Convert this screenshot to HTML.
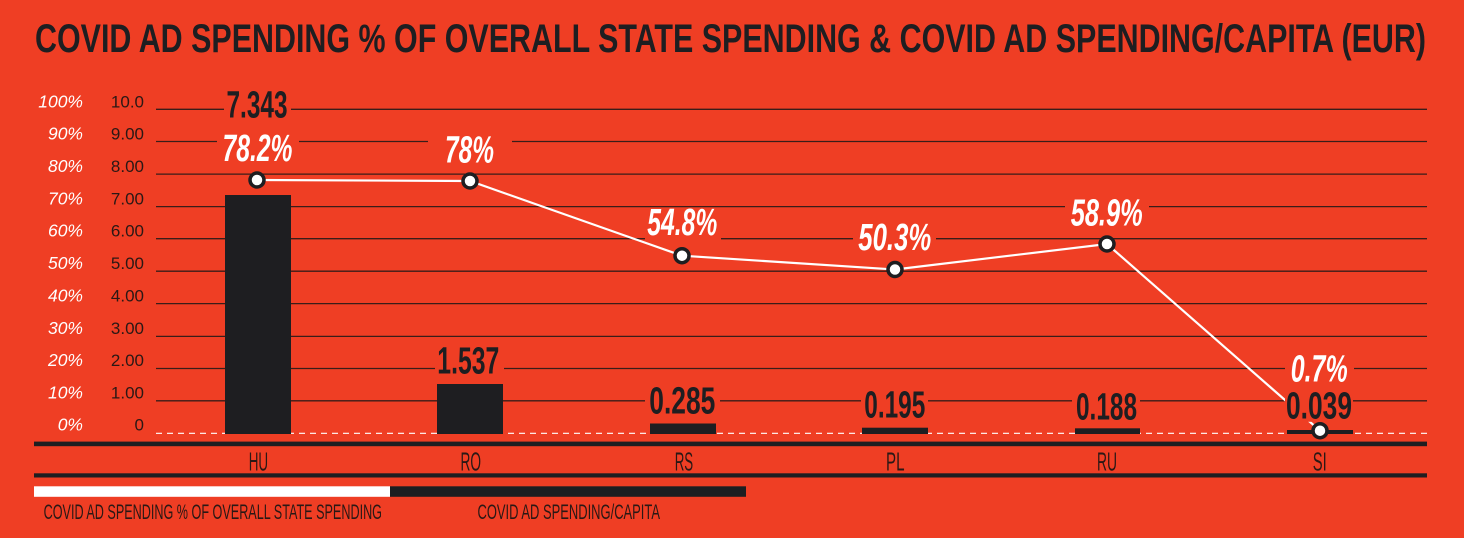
<!DOCTYPE html>
<html><head><meta charset="utf-8"><style>
html,body{margin:0;padding:0;background:#EF3E24;}
svg{display:block;}
</style></head><body>
<svg width="1464" height="538" viewBox="0 0 1464 538" xmlns="http://www.w3.org/2000/svg">
<rect x="0" y="0" width="1464" height="538" fill="#EF3E24"/>
<!-- title -->
<text x="35" y="52" font-family="Liberation Sans, sans-serif" font-weight="700" font-size="40" fill="#1e1e21" textLength="1391" lengthAdjust="spacingAndGlyphs">COVID AD SPENDING % OF OVERALL STATE SPENDING &amp; COVID AD SPENDING/CAPITA (EUR)</text>

<!-- gridlines -->
<g stroke="#3a1d19" stroke-width="1.3">
<line x1="156" y1="109.3" x2="1427" y2="109.3"/>
<line x1="156" y1="141.5" x2="1427" y2="141.5"/>
<line x1="156" y1="174.1" x2="1427" y2="174.1"/>
<line x1="156" y1="206.6" x2="1427" y2="206.6"/>
<line x1="156" y1="238.7" x2="1427" y2="238.7"/>
<line x1="156" y1="271.2" x2="1427" y2="271.2"/>
<line x1="156" y1="303.6" x2="1427" y2="303.6"/>
<line x1="156" y1="336.4" x2="1427" y2="336.4"/>
<line x1="156" y1="368.5" x2="1427" y2="368.5"/>
<line x1="156" y1="400.8" x2="1427" y2="400.8"/>
</g>
<line x1="156" y1="433.3" x2="1427" y2="433.3" stroke="#ffffff" stroke-width="1.2" stroke-dasharray="6 5"/>

<!-- left axis labels -->
<g font-family="Liberation Sans, sans-serif" font-size="17.5" font-style="italic" fill="#ffffff" text-anchor="end">
<text x="83" y="107.3">100%</text>
<text x="83" y="139.5">90%</text>
<text x="83" y="172">80%</text>
<text x="83" y="204.3">70%</text>
<text x="83" y="236.5">60%</text>
<text x="83" y="269">50%</text>
<text x="83" y="301.3">40%</text>
<text x="83" y="334">30%</text>
<text x="83" y="366.2">20%</text>
<text x="83" y="398.4">10%</text>
<text x="83" y="430.5">0%</text>
</g>
<g font-family="Liberation Sans, sans-serif" font-size="17" fill="#2a1815" text-anchor="end">
<text x="144" y="107.3">10.0</text>
<text x="144" y="139.5">9.00</text>
<text x="144" y="172">8.00</text>
<text x="144" y="204.3">7.00</text>
<text x="144" y="236.5">6.00</text>
<text x="144" y="269">5.00</text>
<text x="144" y="301.3">4.00</text>
<text x="144" y="334">3.00</text>
<text x="144" y="366.2">2.00</text>
<text x="144" y="398.4">1.00</text>
<text x="144" y="430.5">0</text>
</g>

<!-- bars -->
<g fill="#1e1e21">
<rect x="225" y="195" width="66" height="39"/>
<rect x="225" y="195" width="66" height="239"/>
<rect x="437" y="384" width="66" height="50"/>
<rect x="650" y="423.5" width="66" height="10.5"/>
<rect x="862" y="427.7" width="66" height="6.3"/>
<rect x="1075" y="428.3" width="65" height="5.7"/>
<rect x="1287" y="430" width="66" height="4"/>
</g>

<!-- line -->
<polyline points="257,180 470,181 682,255.7 895,269.5 1107,244 1320,430.7" fill="none" stroke="#ffffff" stroke-width="2.2"/>

<!-- label background boxes -->
<g fill="#EF3E24">
<rect x="224" y="90" width="67" height="32.5"/>
<rect x="217" y="133.5" width="82" height="32.5"/>
<rect x="428" y="135" width="84" height="32.5"/>
<rect x="645" y="207.6" width="76" height="32.5"/>
<rect x="853" y="222.5" width="83" height="32.5"/>
<rect x="1065" y="198.2" width="84" height="32.5"/>
<rect x="1285" y="354.2" width="69" height="32.5"/>
<rect x="435" y="345.8" width="69" height="32.5"/>
<rect x="645" y="385.8" width="75" height="32.5"/>
<rect x="861" y="389.8" width="67" height="32.5"/>
<rect x="1072" y="391.8" width="68" height="30"/>
<rect x="1285" y="390.8" width="68" height="31"/>
</g>

<!-- value labels -->
<g font-family="Liberation Sans, sans-serif" font-weight="700" font-size="38" fill="#1e1e21" lengthAdjust="spacingAndGlyphs">
<text x="226.5" y="117.5" textLength="61" lengthAdjust="spacingAndGlyphs">7.343</text>
<text x="437.3" y="373.3" textLength="62" lengthAdjust="spacingAndGlyphs">1.537</text>
<text x="649.3" y="413.3" textLength="66" lengthAdjust="spacingAndGlyphs">0.285</text>
<text x="864.3" y="417.3" textLength="61" lengthAdjust="spacingAndGlyphs">0.195</text>
<text x="1076" y="419.3" textLength="61" lengthAdjust="spacingAndGlyphs">0.188</text>
<text x="1286" y="418.3" textLength="66" lengthAdjust="spacingAndGlyphs">0.039</text>
</g>
<g font-family="Liberation Sans, sans-serif" font-weight="700" font-style="italic" font-size="38" fill="#ffffff">
<text x="222.5" y="161" textLength="70" lengthAdjust="spacingAndGlyphs">78.2%</text>
<text x="445" y="162.5" textLength="49" lengthAdjust="spacingAndGlyphs">78%</text>
<text x="647.3" y="235" textLength="70" lengthAdjust="spacingAndGlyphs">54.8%</text>
<text x="858.3" y="250" textLength="73" lengthAdjust="spacingAndGlyphs">50.3%</text>
<text x="1070.7" y="225.7" textLength="72" lengthAdjust="spacingAndGlyphs">58.9%</text>
<text x="1290.7" y="381.7" textLength="57" lengthAdjust="spacingAndGlyphs">0.7%</text>
</g>

<!-- circles -->
<g fill="#ffffff" stroke="#1e1e21" stroke-width="3.5">
<circle cx="257" cy="180" r="7"/>
<circle cx="470" cy="181" r="7"/>
<circle cx="682" cy="255.7" r="7"/>
<circle cx="895" cy="269.5" r="7"/>
<circle cx="1107" cy="244" r="7"/>
<circle cx="1320" cy="430.7" r="7"/>
</g>

<!-- axis lines -->
<rect x="34" y="441.6" width="1393" height="4.6" fill="#1e1e21"/>
<rect x="34" y="473.3" width="1393" height="4.2" fill="#1e1e21"/>

<!-- x labels -->
<g font-family="Liberation Sans, sans-serif" font-size="26" fill="#2a1815">
<text x="248.7" y="470.5" textLength="19.4" lengthAdjust="spacingAndGlyphs">HU</text>
<text x="460.5" y="470.5" textLength="20.5" lengthAdjust="spacingAndGlyphs">RO</text>
<text x="674.7" y="470.5" textLength="18.5" lengthAdjust="spacingAndGlyphs">RS</text>
<text x="886" y="470.5" textLength="18.5" lengthAdjust="spacingAndGlyphs">PL</text>
<text x="1097" y="470.5" textLength="20" lengthAdjust="spacingAndGlyphs">RU</text>
<text x="1312.7" y="470.5" textLength="14" lengthAdjust="spacingAndGlyphs">SI</text>
</g>

<!-- legend -->
<rect x="34" y="486.3" width="356" height="10.5" fill="#ffffff"/>
<rect x="390" y="486.3" width="356" height="10.5" fill="#1e1e21"/>
<g font-family="Liberation Sans, sans-serif" font-size="21.5" fill="#2a1815">
<text x="43.6" y="519" textLength="338.4" lengthAdjust="spacingAndGlyphs">COVID AD SPENDING % OF OVERALL STATE SPENDING</text>
<text x="477.5" y="519" textLength="182.5" lengthAdjust="spacingAndGlyphs">COVID AD SPENDING/CAPITA</text>
</g>
</svg>
</body></html>
